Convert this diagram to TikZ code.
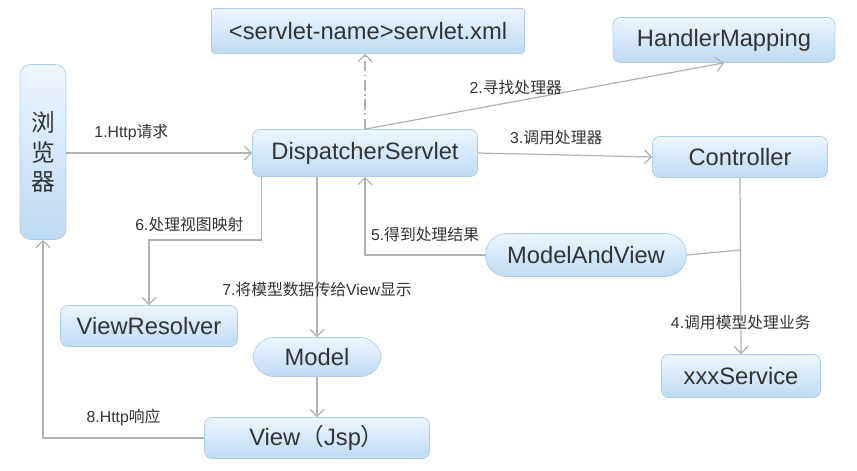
\documentclass[tikz,border=0pt]{standalone}
\usepackage{fontspec}
\setmainfont{Liberation Sans}
\newfontfamily\cjk{Noto Sans CJK SC}
\usetikzlibrary{arrows.meta}
\definecolor{boxtop}{RGB}{238,245,253}
\definecolor{boxbottom}{RGB}{190,218,244}
\definecolor{boxline}{RGB}{172,206,238}
\definecolor{linegray}{RGB}{178,178,178}
\definecolor{textdark}{RGB}{51,51,51}
\begin{document}
\begin{tikzpicture}[x=0.02cm, y=-0.02cm, >={Straight Barb[length=4pt,width=8pt]}, font=\fontsize{13.5}{16}\selectfont]
\tikzstyle{block} = [draw=boxline, top color=boxtop, bottom color=boxbottom, rounded corners=4pt, inner sep=0pt, text=textdark]
\tikzstyle{capsule} = [block, rounded corners=0.42cm]
\tikzstyle{flow} = [draw=linegray, line width=0.7pt]
\tikzstyle{lbl} = [font=\fontsize{9}{10}\selectfont, text=textdark]

\useasboundingbox (0,0) rectangle (857,470);

    % the blocks
    \node [block, rounded corners=6pt, minimum width=0.92cm, minimum height=3.5cm, align=center, font=\cjk\fontsize{13.5}{17}\selectfont] (browser) at (43,152) {浏\\览\\器};
    \node [block, rounded corners=1pt, minimum width=6.26cm, minimum height=0.9cm] (xml) at (368,31) {<servlet-name>servlet.xml};
    \node [block, minimum width=4.44cm, minimum height=0.9cm] (handler) at (724,40) {HandlerMapping};
    \node [block, minimum width=4.5cm, minimum height=0.94cm] (dispatcher) at (365,153) {DispatcherServlet};
    \node [block, minimum width=3.5cm, minimum height=0.82cm] (controller) at (740,157) {Controller};
    \node [capsule, minimum width=4.02cm, minimum height=0.86cm] (mav) at (586,255) {ModelAndView};
    \node [block, minimum width=3.18cm, minimum height=0.86cm] (service) at (741,376) {xxxService};
    \node [block, minimum width=3.54cm, minimum height=0.82cm] (resolver) at (149,326) {ViewResolver};
    \node [capsule, minimum width=2.56cm, minimum height=0.78cm] (model) at (317,357) {Model};
    \node [block, minimum width=4.5cm, minimum height=0.82cm] (view) at (317,438) {View{\cjk（}Jsp{\cjk）}};

    \coordinate (mvjoin) at (740,250);
    \coordinate (bend6) at (149,240);

    % connectors
    \draw [flow, ->] (browser.east |- dispatcher.west) -- node[lbl, pos=0.35, above=3pt] {1.Http{\cjk 请求}} (dispatcher.west);
    \draw [flow, ->, dash pattern=on 6pt off 2pt on 1pt off 2pt] (dispatcher.north) -- (dispatcher.north |- xml.south);
    \draw [flow, ->] (dispatcher.north) -- node[lbl, pos=0.42, above=0pt] {2.{\cjk 寻找处理器}} (handler.south);
    \draw [flow, ->] (dispatcher.east) -- node[lbl, pos=0.45, above=2pt] {3.{\cjk 调用处理器}} (controller.west);
    \draw [flow, ->] (controller.south) -- node[lbl, pos=0.82] {4.{\cjk 调用模型处理业务}} (service.north);
    \draw [flow] (mvjoin) -- (mav.east);
    \draw [flow, ->] (mav.west) -| node[lbl, pos=0.25, above=4pt] {5.{\cjk 得到处理结果}} (dispatcher.south);
    \draw [flow, ->] ([xshift=0.18cm]dispatcher.south west) |- node[lbl, pos=0.82, above=1pt] {6.{\cjk 处理视图映射}} (bend6) -- (resolver.north);
    \draw [flow, ->] (dispatcher.south -| model.north) -- node[lbl, pos=0.7] {7.{\cjk 将模型数据传给}View{\cjk 显示}} (model.north);
    \draw [flow, ->] (model) -- (view);
    \draw [flow, ->] (view.west) -| node[lbl, pos=0.25, above=3pt] {8.Http{\cjk 响应}} (browser.south);

\end{tikzpicture}
\end{document}
